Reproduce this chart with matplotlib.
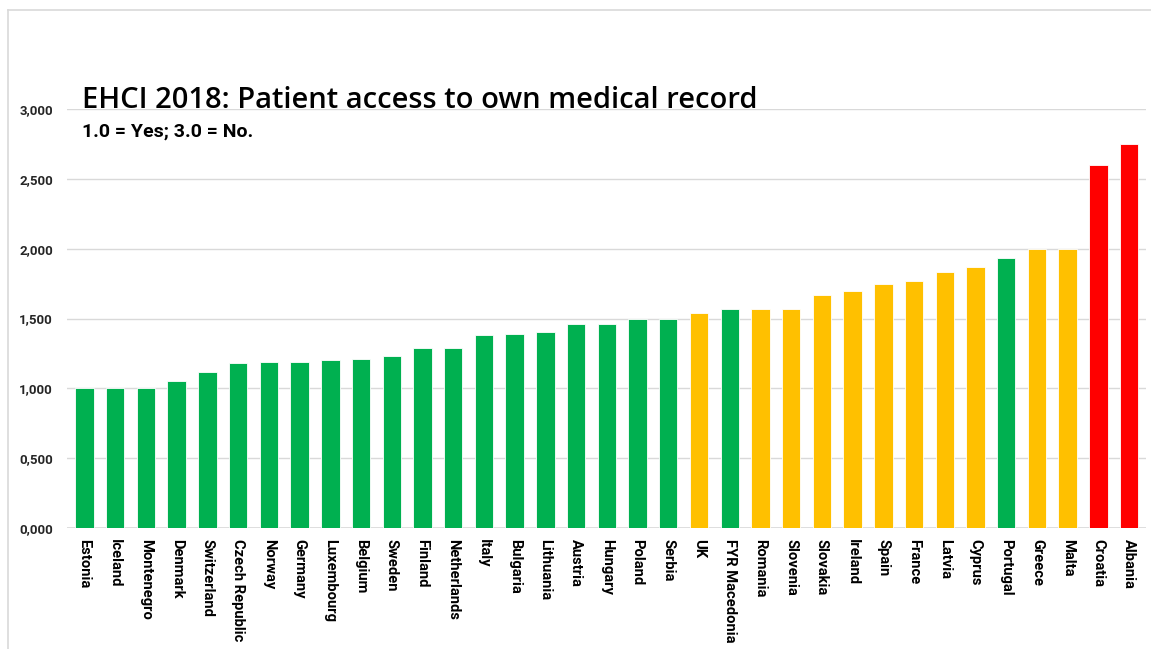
import numpy as np
import matplotlib
matplotlib.use("Agg")
import matplotlib.pyplot as plt
from matplotlib.lines import Line2D

# EHCI 2018 - patient access to own medical record
countries = ["Estonia", "Iceland", "Montenegro", "Denmark", "Switzerland", "Czech Republic",
             "Norway", "Germany", "Luxembourg", "Belgium", "Sweden", "Finland", "Netherlands",
             "Italy", "Bulgaria", "Lithuania", "Austria", "Hungary", "Poland", "Serbia", "UK",
             "FYR Macedonia", "Romania", "Slovenia", "Slovakia", "Ireland", "Spain", "France",
             "Latvia", "Cyprus", "Portugal", "Greece", "Malta", "Croatia", "Albania"]
scores = [1.00, 1.00, 1.00, 1.05, 1.12, 1.18, 1.19, 1.19, 1.20, 1.21, 1.23, 1.29, 1.29,
          1.38, 1.39, 1.40, 1.46, 1.46, 1.50, 1.50, 1.54, 1.57, 1.57, 1.57, 1.67, 1.70,
          1.75, 1.77, 1.83, 1.87, 1.93, 2.00, 2.00, 2.60, 2.75]
# g = green, y = yellow, r = red
grade = list("gggggggggggggggggggg" + "yg" + "yyyyyyyy" + "g" + "yy" + "rr")

palette = {"g": "#00B050", "y": "#FFC000", "r": "#FF0000"}
cols = [palette[g] for g in grade]

fig = plt.figure(figsize=(11.51, 6.49), dpi=100)
ax = fig.add_axes([0.0582, 0.1864, 0.9375, 0.6456])

x = np.arange(len(countries))
ax.bar(x, scores, width=0.6, color=cols, edgecolor="white", linewidth=0.6, zorder=3)

ax.set_xlim(-0.57, len(countries) - 0.45)
ax.set_ylim(0, 3)
yt = np.arange(0, 3.01, 0.5)
ax.set_yticks(yt)
ax.set_yticklabels([("%.3f" % v).replace(".", ",") for v in yt],
                   fontsize=9.5, fontweight="bold", fontfamily="Roboto", color="#262626")
ax.set_xticks(x)
ax.set_xticklabels(countries, rotation=270, fontsize=10.6, fontweight="bold",
                   fontfamily="Roboto", va="top", ha="center")
ax.tick_params(axis="both", length=0)
ax.tick_params(axis="y", pad=10)
ax.tick_params(axis="x", pad=8)
ax.yaxis.grid(True, color="#d9d9d9", linewidth=1.0, zorder=0)
for s in ax.spines.values():
    s.set_visible(False)
ax.axhline(0, color="#d9d9d9", linewidth=1.2, zorder=2)

fig.text(0.0712, 0.834, "EHCI 2018: Patient access to own medical record",
         fontsize=21, fontfamily="Open Sans", fontweight="semibold", va="baseline")
fig.text(0.0712, 0.789, "1.0 = Yes; 3.0 = No.", fontsize=14, fontweight="bold",
         fontfamily="Roboto", va="baseline")

# thin frame line at top and left like the slide border
fig.add_artist(Line2D([8 / 1151, 1], [1 - 10 / 649, 1 - 10 / 649], color="#d9d9d9", linewidth=1.2))
fig.add_artist(Line2D([8 / 1151, 8 / 1151], [0, 1 - 10 / 649], color="#d9d9d9", linewidth=1.2))

fig.savefig("out.png", dpi=100)
